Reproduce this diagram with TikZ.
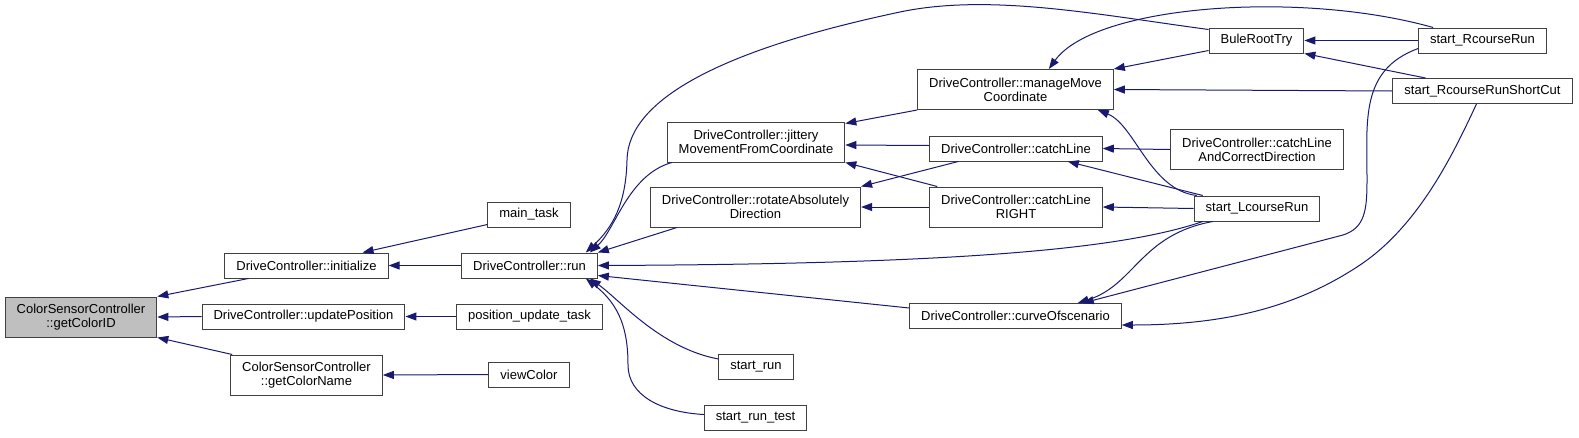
\documentclass[tikz,border=0pt]{standalone}
\usepackage{fontspec}
\setmainfont{Liberation Sans}
\usetikzlibrary{arrows.meta}
\definecolor{edgeblue}{HTML}{191970}

\begin{document}
\begin{tikzpicture}[
    x=1pt, y=-1pt,
    fn/.style={
        draw=black!75, line width=1pt,
        font=\fontsize{13}{14}\selectfont,
        minimum height=25pt,
        inner xsep=11.5pt, inner ysep=2pt,
        align=center
    },
    fntwo/.style={fn, minimum height=40pt},
    call/.style={draw=edgeblue, line width=1pt, {Triangle[length=11pt,width=8pt]}-},
]
\useasboundingbox (0,0) rectangle (1579,437);

% the function itself
\node[fntwo, fill=black!25] (getid) at (81,317) {ColorSensorController\\::getColorID};

% first level
\node[fn] (init) at (306.5,265.5) {DriveController::initialize};
\node[fn] (upd) at (303.5,316.5) {DriveController::updatePosition};
\node[fntwo] (gcn) at (306.5,375) {ColorSensorController\\::getColorName};

% second level
\node[fn] (main) at (529,214.5) {main\_task};
\node[fn] (run) at (529.5,265.5) {DriveController::run};
\node[fn] (put) at (529.5,316.5) {position\_update\_task};
\node[fn] (view) at (529,374.5) {viewColor};

% third level
\node[fntwo] (jit) at (756,142) {DriveController::jittery\\MovementFromCoordinate};
\node[fntwo] (rot) at (755.5,207) {DriveController::rotateAbsolutely\\Direction};
\node[fn] (srun) at (756,367) {start\_run};
\node[fn] (srt) at (755.5,417.5) {start\_run\_test};

% fourth level
\node[fntwo] (mmc) at (1015.5,89.5) {DriveController::manageMove\\Coordinate};
\node[fn] (cl) at (1016,148.5) {DriveController::catchLine};
\node[fntwo] (clr) at (1016,207) {DriveController::catchLine\\RIGHT};
\node[fn] (cvs) at (1015.5,316) {DriveController::curveOfscenario};

% fifth level
\node[fn] (brt) at (1256.5,40.5) {BuleRootTry};
\node[fntwo] (clacd) at (1257,149.5) {DriveController::catchLine\\AndCorrectDirection};
\node[fn] (slr) at (1257,208.5) {start\_LcourseRun};

% last level
\node[fn] (srr) at (1482.5,40.5) {start\_RcourseRun};
\node[fn] (srsc) at (1482.5,91) {start\_RcourseRunShortCut};

% callers of getColorID
\draw[call] (getid.north east) -- ([xshift=24pt]init.south west);
\draw[call] (getid.east) -- (upd.west);
\draw[call] (getid.south east) -- ([xshift=2pt]gcn.north west);

\draw[call] ([xshift=-26pt]init.north east) -- ([yshift=3pt]main.south west);
\draw[call] (init.east) -- (run.west);
\draw[call] (upd.east) -- (put.west);
\draw[call] (gcn.east) -- (view.west);

% callers of run
\draw[call] ([xshift=-8pt]run.north east) .. controls (615,230) and (628,175) .. ([xshift=5pt]jit.south west);
\draw[call] (run.north east) -- ([xshift=27pt]rot.south west);
\draw[call] ([xshift=-12pt]run.north east) .. controls (612,228) and (626,205) .. (627,160)
    .. controls (628,100) and (720,50) .. (900,12)
    .. controls (990,-7) and (1100,15) .. ([yshift=-2pt]brt.north west);
\draw[call] (run.east) .. controls (950,264) and (1120,250) .. ([xshift=9pt]slr.south west);
\draw[call] ([yshift=-10pt]run.east) -- ([yshift=8pt]cvs.west);
\draw[call] ([xshift=-8pt]run.south east) .. controls (620,300) and (660,348) .. ([yshift=8pt]srun.west);
\draw[call] ([xshift=-12pt]run.south east) .. controls (620,305) and (628,330) .. (628,365)
    .. controls (628,395) and (660,412) .. ([yshift=3pt]srt.west);

% callers of jittery / rotate
\draw[call] ([yshift=-2pt]jit.north east) -- (mmc.south west);
\draw[call] ([yshift=-3pt]jit.east) -- ([yshift=3pt]cl.west);
\draw[call] (jit.south east) -- ([xshift=8pt]clr.north west);
\draw[call] (rot.north east) -- ([xshift=29pt]cl.south west);
\draw[call] (rot.east) -- (clr.west);

% callers of manageMove
\draw[call] (mmc.north east) -- ([yshift=3pt]brt.south west);
\draw[call] ([xshift=-65pt]mmc.north east) .. controls (1095,5) and (1300,-10) .. ([xshift=15pt]srr.north west);
\draw[call] (mmc.east) -- (srsc.west);
\draw[call] ([xshift=-16pt]mmc.south east) .. controls (1135,125) and (1150,190) .. ([xshift=3pt]slr.north west);

% callers of catchLine
\draw[call] (cl.east) -- (clacd.west);
\draw[call] ([xshift=-35pt]cl.south east) -- ([xshift=9pt]slr.north west);
\draw[call] (clr.east) -- (slr.west);

% callers of BuleRootTry
\draw[call] (brt.east) -- (srr.west);
\draw[call] (brt.south east) -- ([xshift=33pt]srsc.north west);

% callers of curveOfscenario
\draw[call] ([xshift=-44pt]cvs.north east) .. controls (1135,285) and (1140,235) .. ([xshift=19pt]slr.south west);
\draw[call] ([xshift=-39pt]cvs.north east) -- (1343,235) .. controls (1365,228) and (1367,210) .. (1367,180)
    .. controls (1367,120) and (1360,70) .. ([yshift=5pt]srr.south west);
\draw[call] ([yshift=-9pt]cvs.east) .. controls (1230,325) and (1300,305) .. (1360,265)
    .. controls (1420,225) and (1455,150) .. ([xshift=84pt]srsc.south west);

\end{tikzpicture}
\end{document}
